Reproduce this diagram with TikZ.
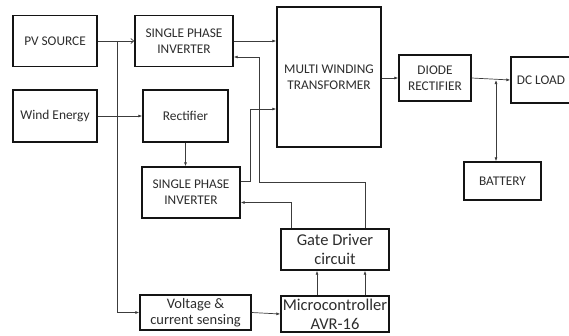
\documentclass[tikz,border=0pt]{standalone}
\usepackage{fontspec}
\setmainfont{Carlito}
\usetikzlibrary{arrows.meta}
\definecolor{boxline}{RGB}{20,20,20}
\definecolor{wire}{RGB}{60,60,60}
\definecolor{labeltext}{RGB}{45,45,45}

\tikzset{
  block/.style={draw=boxline, line width=1.4pt, fill=white, align=center,
    text=labeltext, inner sep=1pt},
  capsfont/.style={font=\fontsize{13.3}{16}\selectfont},
  smallfont/.style={font=\fontsize{13.4}{16}\selectfont},
  sensefont/.style={font=\fontsize{14.5}{16}\selectfont},
  bigfont/.style={font=\fontsize{16.5}{19}\selectfont},
  wire/.style={draw=wire, line width=0.7pt},
  feed/.style={wire, -{Latex[length=4pt,width=3pt]}},
  both/.style={wire, {Latex[length=4pt,width=3pt]}-{Latex[length=4pt,width=3pt]}},
  open/.style={wire, -{Straight Barb[length=3pt,width=5pt]}}
}

\begin{document}
\begin{tikzpicture}[x=1pt, y=-1pt]
\useasboundingbox (0,0) rectangle (569,335);
% Blocks, placed at pixel positions of the sketch (y runs down)
\node[block, capsfont, minimum width=84pt, minimum height=51pt] (pv) at (55,41) {PV SOURCE};
\node[block, capsfont, minimum width=98pt, minimum height=51pt] (invA) at (184,41) {SINGLE PHASE\\INVERTER};
\node[block, capsfont, minimum width=104pt, minimum height=140pt] (mwt) at (329,77) {MULTI WINDING\\TRANSFORMER};
\node[block, capsfont, minimum width=72pt, minimum height=46pt] (diode) at (435,78) {DIODE\\RECTIFIER};
\node[block, capsfont, minimum width=60pt, minimum height=46pt] (load) at (541,80) {DC LOAD};
\node[block, smallfont, minimum width=84pt, minimum height=52pt] (wind) at (55,116) {Wind Energy};
\node[block, smallfont, minimum width=85pt, minimum height=52pt] (rect) at (185.5,116) {Rectifier};
\node[block, capsfont, minimum width=98pt, minimum height=51pt] (invB) at (191,192.5) {SINGLE PHASE\\INVERTER};
\node[block, capsfont, minimum width=77pt, minimum height=38pt] (battery) at (502.5,181) {BATTERY};
\node[block, bigfont, minimum width=108pt, minimum height=41pt] (gate) at (335,249.5) {Gate Driver\\circuit};
\node[block, sensefont, minimum width=111pt, minimum height=35pt, inner sep=0pt] (sense) at (195.5,312.5) {Voltage \&\\current sensing};
\node[block, bigfont, minimum width=108pt, minimum height=36pt, inner sep=0pt] (micro) at (335,314) {Microcontroller\\AVR-16};

% Taps and bends of the wires
\coordinate (pvtap) at (117,41);
\coordinate (tap) at (496,80);
\coordinate (fbA) at (259,182);
\coordinate (upB) at (250,109);

% Power path
\draw[open] (pv.east) -- (invA.west);
\draw[feed] (invA.east) -- (invA.east -| mwt.west);
\draw[feed] (wind.east) -- (rect.west);
\draw[feed] (rect.south) -- (rect.south |- invB.north);
\draw[feed] ([yshift=11pt]invB.east) -| (upB) -- (upB -| mwt.west);
\draw[feed] (diode.west -| mwt.east) -- (diode.west);
\draw[feed] (diode.east) -- (load.west);
\draw[both] (tap) -- (tap |- battery.north);

% Sensing and control
\draw[feed] (pvtap) |- (sense.west);
\draw[feed] (sense.east) -- (micro.west);
\draw[feed] ([xshift=-18pt]micro.north) -- ([xshift=-18pt]gate.south);
\draw[feed] ([xshift=30pt]micro.north) -- ([xshift=30pt]gate.south);
\draw[feed] ([xshift=-44pt]gate.north) |- ([yshift=-10pt]invB.east);
\draw[feed] ([xshift=30pt]gate.north) |- (fbA) |- ([yshift=-16pt]invA.east);
\end{tikzpicture}
\end{document}
